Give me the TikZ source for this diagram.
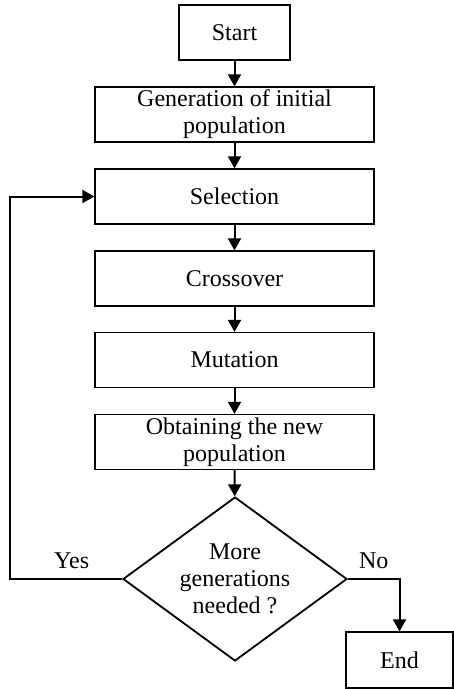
\documentclass[tikz,border=0pt]{standalone}
\usepackage{fontspec}
\setmainfont{Liberation Serif}
\usetikzlibrary{arrows.meta,shapes.geometric}

\begin{document}
\begin{tikzpicture}[>={Triangle[length=12pt,width=13pt]},x=1pt,y=-1pt,font=\fontsize{24}{27}\selectfont]
\tikzstyle{b}=[draw,line width=1.3pt,minimum height=55pt,align=center,inner sep=2pt]
\tikzstyle{a}=[->,line width=2pt]
\useasboundingbox (0,0) rectangle (454,689);
\node[b,minimum width=111pt] (start) at (234.5,32.5) {Start};
\node[b,minimum width=279pt] (gen) at (234.5,114.5) {Generation of initial\\population};
\foreach \n/\y/\t in {sel/196.5/Selection,cross/278.5/Crossover,mut/360/Mutation,obt/442/{Obtaining the new\\population}} \node[b,minimum width=279pt] (\n) at (234.5,\y) {\t};
\node[draw,diamond,line width=1.8pt,aspect=1.366,minimum width=224pt,minimum height=164pt,inner sep=0pt,align=center] (more) at (235,579) {More\\generations\\needed ?};
\node[b,minimum width=107pt,minimum height=56pt] (end) at (399.5,660) {End};
\foreach \p/\q in {start/gen,gen/sel,sel/cross,cross/mut,mut/obt,obt/more} \draw[a] (\p) -- (\q);
\draw[a] (more.west) -- ++(-112,0) node[pos=0.45,above=6pt]{Yes} |- (sel.west);
\draw[a] (more.east) -| node[pos=0.25,above=6pt]{No} (end.north);
\end{tikzpicture}
\end{document}
